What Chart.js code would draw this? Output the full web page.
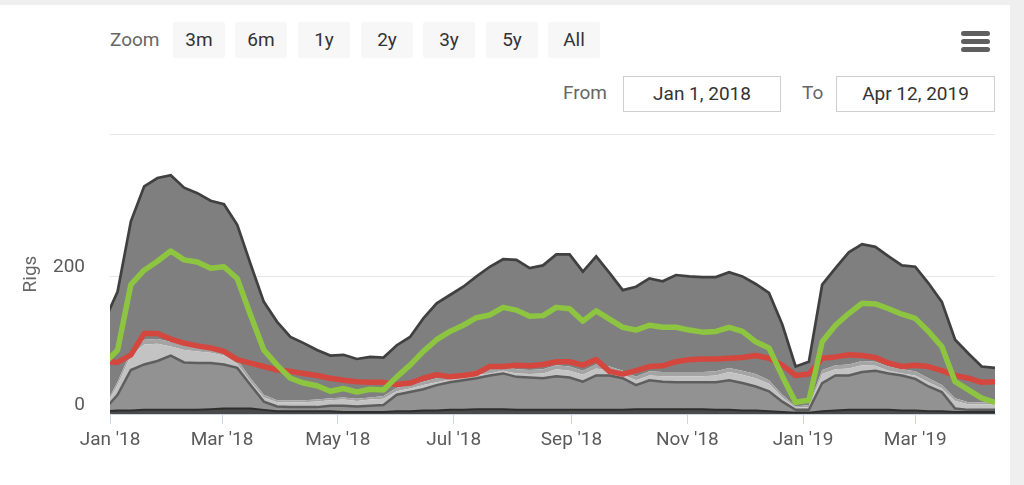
<!DOCTYPE html>
<html>
<head>
<meta charset="utf-8">
<script src="https://cdn.jsdelivr.net/npm/chart.js@4.4.1/dist/chart.umd.min.js"></script>
<style>
html,body{margin:0;padding:0;width:1024px;height:485px;overflow:hidden;background:#efefef;font-family:Roboto,"Noto Sans",sans-serif;}
#card{position:absolute;left:0;top:5px;width:1010px;height:480px;background:#fff;}
#c{position:absolute;left:0;top:0;}
.lbl{position:absolute;color:#666;font-size:19px;line-height:24px;}
.btn{position:absolute;top:22px;width:52px;height:36px;background:#f7f7f7;color:#333;font-size:19px;line-height:36px;text-align:center;border-radius:2px;}
.inp{position:absolute;top:76px;height:34px;border:1px solid #cfcfcf;color:#333;font-size:19px;line-height:34px;text-align:center;background:#fff;}
.bar{position:absolute;left:961px;width:29px;height:5px;border-radius:3px;background:#5f5f5f;}
</style>
</head>
<body>
<div id="card"></div>
<div class="lbl" style="left:110px;top:28px;">Zoom</div>
<div class="btn" style="left:173px;">3m</div>
<div class="btn" style="left:235px;">6m</div>
<div class="btn" style="left:298px;">1y</div>
<div class="btn" style="left:361px;">2y</div>
<div class="btn" style="left:423px;">3y</div>
<div class="btn" style="left:486px;">5y</div>
<div class="btn" style="left:548px;">All</div>
<div class="lbl" style="left:563px;top:81px;">From</div>
<div class="inp" style="left:623px;width:156px;">Jan 1, 2018</div>
<div class="lbl" style="left:802px;top:81px;">To</div>
<div class="inp" style="left:836px;width:157px;">Apr 12, 2019</div>
<div class="bar" style="top:31px;"></div>
<div class="bar" style="top:39px;"></div>
<div class="bar" style="top:47px;"></div>
<canvas id="c" width="1024" height="485"></canvas>
<script>
// ---- data ----
const weekDates = [
 '2017-12-29',
 '2018-01-05','2018-01-12','2018-01-19','2018-01-26',
 '2018-02-02','2018-02-09','2018-02-16','2018-02-23',
 '2018-03-02','2018-03-09','2018-03-16','2018-03-23','2018-03-30',
 '2018-04-06','2018-04-13','2018-04-20','2018-04-27',
 '2018-05-04','2018-05-11','2018-05-18','2018-05-25',
 '2018-06-01','2018-06-08','2018-06-15','2018-06-22','2018-06-29',
 '2018-07-06','2018-07-13','2018-07-20','2018-07-27',
 '2018-08-03','2018-08-10','2018-08-17','2018-08-24','2018-08-31',
 '2018-09-07','2018-09-14','2018-09-21','2018-09-28',
 '2018-10-05','2018-10-12','2018-10-19','2018-10-26',
 '2018-11-02','2018-11-09','2018-11-16','2018-11-23','2018-11-30',
 '2018-12-07','2018-12-14','2018-12-21','2018-12-28',
 '2019-01-04','2019-01-11','2019-01-18','2019-01-25',
 '2019-02-01','2019-02-08','2019-02-15','2019-02-22',
 '2019-03-01','2019-03-08','2019-03-15','2019-03-22','2019-03-29',
 '2019-04-05','2019-04-12'
];
// total rigs (top outline of the stacked areas)
const totalRigs = [135,
 178,280,331,343,347,329,321,310,305,275,
 218,163,134,112,103,93,85,86,80,83,
 82,100,112,139,161,173,185,200,214,225,
 224,212,216,232,232,207,229,205,180,185,
 197,193,202,200,199,199,206,200,189,176,
 130,69,76,188,212,235,247,243,229,216,
 214,190,163,108,88,69,67];
const oilRigs = [73,
 93,188,209,222,237,224,221,212,214,197,
 144,93,71,52,45,41,33,37,32,36,
 35,54,71,91,108,120,129,140,144,155,
 151,142,143,155,153,135,150,138,126,122,
 129,126,126,122,119,120,126,120,105,96,
 55,17,20,105,129,146,161,160,153,145,
 139,120,98,47,35,23,17];
const gasRigs = [77,
 75,86,117,117,109,103,99,96,91,79,
 74,69,64,62,59,56,52,49,47,46,
 46,43,45,52,57,54,56,59,69,69,
 71,70,72,76,76,71,79,62,58,63,
 69,70,76,79,80,80,81,82,85,81,
 71,56,58,81,83,86,85,82,74,69,
 71,69,63,56,52,46,47];
// cumulative boundaries of the lower grey bands
const bandBottom = [4,
 5,5,6,6,6,6,6,7,8,8,
 8,6,4,4,4,4,4,3,3,3,
 3,4,4,5,5,6,6,7,7,7,
 6,6,6,6,6,6,6,6,6,7,
 7,7,7,7,7,6,6,5,5,4,
 3,2,2,4,5,6,6,6,6,5,
 5,4,4,3,3,3,3];
const bandMid = [6,
 28,64,72,77,85,75,74,74,72,67,
 42,18,11,10,10,10,12,12,11,12,
 13,28,32,36,42,46,49,52,56,59,
 54,53,52,55,53,47,56,56,52,42,
 49,47,46,46,46,46,49,45,40,33,
 18,6,6,45,56,56,61,63,59,56,
 51,40,32,8,6,6,6];
const bandLight = [8,
 42,85,101,102,98,93,91,89,85,73,
 47,24,17,17,17,18,20,21,19,21,
 22,33,37,42,46,50,52,57,59,63,
 59,58,59,65,63,57,66,63,57,49,
 56,55,55,55,55,56,61,57,52,44,
 24,9,10,58,65,66,71,70,63,59,
 56,46,37,19,14,14,14];
const bandThin = [10,
 47,91,108,109,105,100,98,96,91,79,
 52,28,20,20,20,21,23,24,22,24,
 26,38,42,47,52,56,58,63,65,69,
 65,64,65,71,69,63,72,69,63,54,
 62,61,61,61,61,62,67,63,58,49,
 28,11,13,64,71,72,77,76,69,65,
 62,52,42,23,17,17,17];
const tickDates = ['2018-01-01','2018-03-01','2018-05-01','2018-07-01','2018-09-01','2018-11-01','2019-01-01','2019-03-01'];
const tickLabels = ["Jan '18","Mar '18","May '18","Jul '18","Sep '18","Nov '18","Jan '19","Mar '19"];
const yTickValues = [0, 200];
const rangeStart = '2018-01-01';
const rangeEnd = '2019-04-12';

// ---- build ----
const dayOf = s => (Date.parse(s) - Date.parse(rangeStart)) / 86400000;
const pts = arr => arr.map((v, i) => ({x: dayOf(weekDates[i]), y: v}));
const tickDays = tickDates.map(dayOf);
const Y_TOP = 407;

function build(){
  Chart.defaults.font.family = 'Roboto';
  Chart.defaults.font.size = 19;
  Chart.defaults.color = '#666';
  const common = {pointRadius: 0, pointHoverRadius: 0, tension: 0, clip: 0};
  new Chart(document.getElementById('c'), {
    type: 'line',
    data: {
      datasets: [
        Object.assign({label: 'Base', data: pts(bandBottom), fill: 'origin', backgroundColor: '#4a4a4a', borderColor: '#2e2e2e', borderWidth: 2, order: 6}, common),
        Object.assign({label: 'Mid', data: pts(bandMid), fill: '-1', backgroundColor: '#929292', borderColor: '#5e5e5e', borderWidth: 2.5, order: 7}, common),
        Object.assign({label: 'Light', data: pts(bandLight), fill: '-1', backgroundColor: '#c3c3c3', borderColor: 'rgba(0,0,0,0)', borderWidth: 0, order: 8}, common),
        Object.assign({label: 'Thin', data: pts(bandThin), fill: '-1', backgroundColor: '#a4a4a4', borderColor: 'rgba(0,0,0,0)', borderWidth: 0, order: 9}, common),
        Object.assign({label: 'Total', data: pts(totalRigs), fill: '-1', backgroundColor: '#7f7f7f', borderColor: '#404040', borderWidth: 2.7, order: 10}, common),
        Object.assign({label: 'Gas', data: pts(gasRigs), fill: false, borderColor: '#d4473f', borderWidth: 5.5, order: 2, borderJoinStyle: 'round'}, common),
        Object.assign({label: 'Oil', data: pts(oilRigs), fill: false, borderColor: '#8dc540', borderWidth: 5.5, order: 1, borderJoinStyle: 'round'}, common)
      ]
    },
    options: {
      responsive: false,
      animation: false,
      events: [],
      layout: {padding: {left: 10, right: 29, top: 134, bottom: 11}},
      plugins: {legend: {display: false}, tooltip: {enabled: false}},
      scales: {
        x: {
          type: 'linear',
          min: 0,
          max: dayOf(rangeEnd),
          afterBuildTicks: s => { s.ticks = tickDays.map(v => ({value: v})); },
          afterFit: s => { s.height = 60; },
          ticks: {
            callback: v => { const i = tickDays.indexOf(v); return i >= 0 ? tickLabels[i] : ''; },
            padding: 5, maxRotation: 0, autoSkip: false, color: '#5a5a5a'
          },
          grid: {drawOnChartArea: false, drawTicks: true, tickLength: 10, color: '#ccd6eb'},
          border: {display: true, color: '#ccd6eb'}
        },
        y: {
          min: 0,
          max: Y_TOP,
          afterBuildTicks: s => { s.ticks = yTickValues.concat([Y_TOP]).map(v => ({value: v})); },
          afterFit: s => { s.width = 100; },
          ticks: {
            callback: v => yTickValues.includes(v) ? String(v) : '',
            padding: 25, labelOffset: -9, color: '#5a5a5a'
          },
          grid: {color: '#e6e6e6', drawTicks: false},
          border: {display: false},
          title: {display: true, text: 'Rigs', color: '#666', font: {size: 19}, padding: {top: 10, bottom: 0}}
        }
      }
    }
  });
}
if (document.fonts && document.fonts.load) {
  document.fonts.load('19px Roboto').then(build, build);
} else { build(); }
</script>
</body>
</html>
